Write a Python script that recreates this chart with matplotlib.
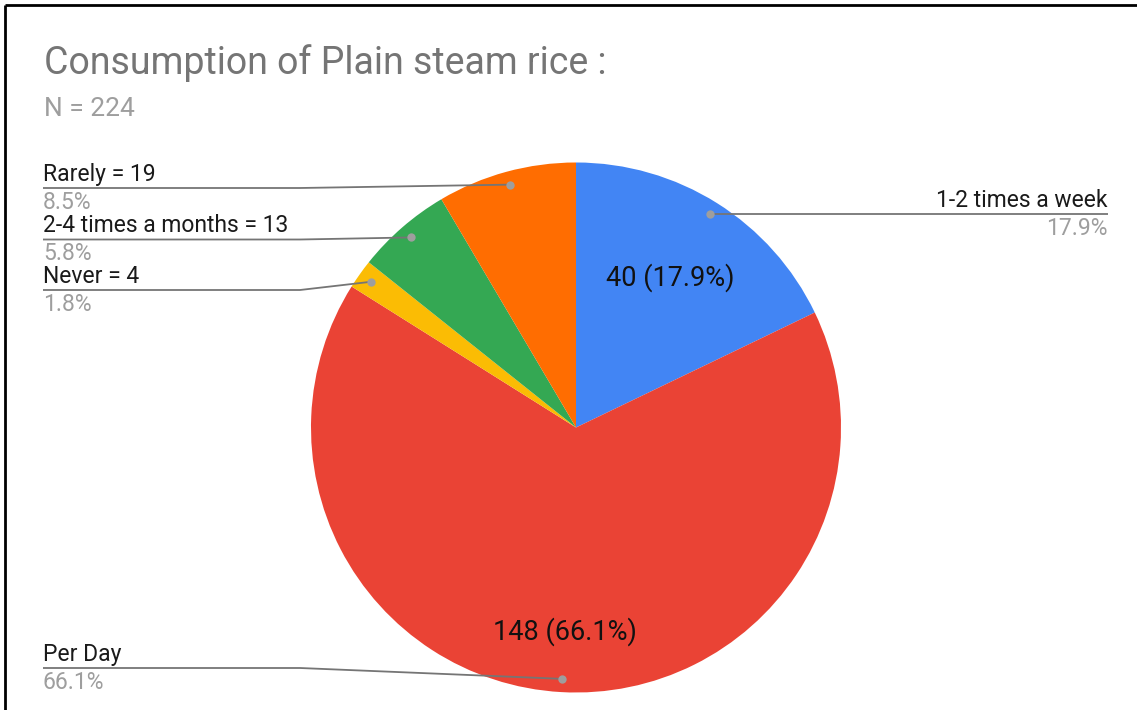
"""camembert de la consommation de riz blanc vapeur"""

import numpy as np
import matplotlib.pyplot as plt

# données
categories = ["1-2 times a week", "Per Day", "Never", "2-4 times a months", "Rarely"]
effectifs = [40, 148, 4, 13, 19]
afficher_n = [False, False, True, True, True]
couleurs = ["#4285F4", "#EA4335", "#FBBC04", "#34A853", "#FF6D01"]
titre = "Consumption of Plain steam rice :"
sous_titre = "N = 224"

# mise en page des étiquettes (en pixels, y vers le bas)
# cote : "g" ou "d", y du trait, x du coude
etiquettes = {
    "1-2 times a week": ("d", None, None),
    "Per Day": ("g", 668, 300),
    "Never": ("g", 290, 300),
    "2-4 times a months": ("g", 239.5, 300),
    "Rarely": ("g", 188, 300),
}
# rayon relatif des valeurs dans les parts
rayon_valeur = {"1-2 times a week": 0.67, "Per Day": 0.77}

L, H = 1137, 710
plt.rcParams["font.family"] = ["Roboto", "DejaVu Sans"]

fig = plt.figure(figsize=(L / 100, H / 100), dpi=100)
ax = fig.add_axes([0, 0, 1, 1])

centre = (576, 427.5)
R = 265
total = sum(effectifs)

parts, _ = ax.pie(effectifs, colors=couleurs, startangle=-90, counterclock=True,
                  center=centre, radius=R, frame=False,
                  wedgeprops=dict(linewidth=0))

ax.set_xlim(0, L)
ax.set_ylim(H, 0)
ax.set_aspect("auto")
ax.axis("off")

gris_trait = "#757575"
for part, cat, n, avec_n in zip(parts, categories, effectifs, afficher_n):
    a = np.deg2rad((part.theta1 + part.theta2) / 2)
    pct = 100 * n / total
    px = centre[0] + 0.95 * R * np.cos(a)
    py = centre[1] + 0.95 * R * np.sin(a)
    cote, yl, xk = etiquettes[cat]
    texte = f"{cat} = {n}" if avec_n else cat
    if cote == "d":
        xs, ys = [px, 1108], [py, py]
        x_txt, ha, yl = 1108, "right", py
    else:
        xs, ys = [43, xk, px], [yl, yl, py]
        x_txt, ha = 43, "left"
    ax.plot(xs, ys, color=gris_trait, lw=1.3, solid_capstyle="butt", zorder=3)
    ax.plot(px, py, "o", color="#9e9e9e", ms=6, mec="none", zorder=4)
    ax.text(x_txt, yl - 7, texte, ha=ha, va="baseline", fontsize=16.5, color="#1a1a1a")
    ax.text(x_txt, yl + 21, f"{pct:.1f}%", ha=ha, va="baseline", fontsize=16.5,
            color="#9e9e9e")
    if cat in rayon_valeur:
        r = rayon_valeur[cat] * R
        ax.text(centre[0] + r * np.cos(a), centre[1] + r * np.sin(a),
                f"{n} ({pct:.1f}%)", ha="center", va="center", fontsize=19.5,
                color="#111111")

ax.text(44, 74, titre, ha="left", va="baseline", fontsize=27, color="#757575")
ax.text(44, 116, sous_titre, ha="left", va="baseline", fontsize=19, color="#9e9e9e")

# cadre noir en haut et à gauche
ax.plot([5, L], [5, 5], color="black", lw=2, solid_capstyle="butt", clip_on=False)
ax.plot([5, 5], [5, H], color="black", lw=2, solid_capstyle="butt", clip_on=False)

fig.savefig("out.png", dpi=100, facecolor="white")
